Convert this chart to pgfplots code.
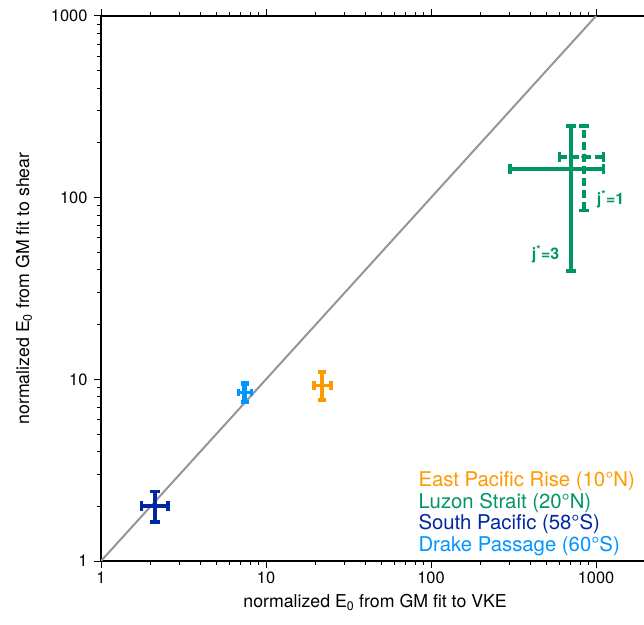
\documentclass[border=0pt]{standalone}
\usepackage{pgfplots}
\pgfplotsset{compat=1.18}
\usepackage{fontspec}
\setmainfont{TeX Gyre Heros}
\definecolor{cgreen}{RGB}{0,150,100}
\definecolor{corange}{RGB}{255,153,0}
\definecolor{cdblue}{RGB}{0,38,160}
\definecolor{clblue}{RGB}{0,150,255}
\definecolor{cgray}{RGB}{150,150,150}
\begin{document}
\begin{tikzpicture}
\useasboundingbox (0,0) rectangle (644bp,625bp);
\clip (0,0) rectangle (644bp,625bp);
\begin{axis}[
  at={(101bp,64bp)}, anchor=south west,
  scale only axis, width=548.2bp, height=545bp,
  xmode=log, ymode=log,
  xmin=1, xmax=2100, ymin=1, ymax=1000,
  xtick={1,10,100,1000}, xticklabels={1,10,100,1000},
  ytick={1,10,100,1000}, yticklabels={1,10,100,1000},
  tick align=outside,
  axis line style={line width=2.5bp},
  major tick style={line width=1bp, black},
  minor tick style={line width=1bp, black},
  major tick length=7bp, minor tick length=4bp,
  /pgf/number format/assume math mode=true,
  ticklabel style={font=\fontsize{16.5}{19}\selectfont},
  yticklabel style={xshift=-3bp},
  xlabel={normalized E\textsubscript{0} from GM fit to VKE},
  ylabel={normalized E\textsubscript{0} from GM fit to shear},
  label style={font=\fontsize{17.8}{20}\selectfont},
  xlabel style={yshift=-4bp},
  ylabel style={yshift=12bp},
]
% 1:1 line
\addplot[cgray, line width=2bp] coordinates {(1,1) (1000,1000)};
% South Pacific
\addplot[cdblue, line width=3.8bp, mark=-, mark size=4.8bp] coordinates {(2.12,1.64) (2.12,2.41)};
\addplot[cdblue, line width=3.8bp, mark=|, mark size=4.8bp] coordinates {(1.76,2.01) (2.56,2.01)};
% Drake Passage
\addplot[clblue, line width=4.5bp, mark=-, mark size=3.8bp] coordinates {(7.43,7.5) (7.43,9.5)};
\addplot[clblue, line width=3.5bp, mark=|, mark size=3.8bp] coordinates {(6.8,8.48) (8.19,8.48)};
% East Pacific Rise
\addplot[corange, line width=3.6bp, mark=-, mark size=4.2bp] coordinates {(21.9,7.7) (21.9,11.0)};
\addplot[corange, line width=3.6bp, mark=|, mark size=4.2bp] coordinates {(19.6,9.23) (24.7,9.23)};
% Luzon Strait j*=3
\addplot[cgreen, line width=3.6bp, mark=-, mark size=5bp] coordinates {(703,39.4) (703,248)};
\addplot[cgreen, line width=3.6bp, mark=|, mark size=5bp] coordinates {(301,143.5) (1107,143.5)};
% Luzon Strait j*=1
\addplot[cgreen, line width=3.6bp, dash pattern=on 8bp off 4bp, mark=-, mark size=5bp, mark options={solid}] coordinates {(849,85.2) (849,248)};
\addplot[cgreen, line width=3.6bp, dash pattern=on 8bp off 4bp, mark=|, mark size=5bp, mark options={solid}] coordinates {(600,168) (1107,168)};
\addplot[cgreen, only marks, mark=*, mark size=2.8bp] coordinates {(849,168)};
\end{axis}
\node[anchor=base west, text=cgreen, font=\fontsize{16}{18}\selectfont\bfseries, inner sep=0pt] at (596.7bp,420bp) {j\textsuperscript{*}=1};
\node[anchor=base west, text=cgreen, font=\fontsize{16}{18}\selectfont\bfseries, inner sep=0pt] at (531.7bp,365bp) {j\textsuperscript{*}=3};
\begin{scope}[every node/.style={anchor=base west, inner sep=0pt, font=\fontsize{20.4}{24}\selectfont}]
\node[text=corange] at (418.3bp,138.3bp) {East Pacific Rise (10°N)};
\node[text=cgreen] at (418.3bp,116.7bp) {Luzon Strait (20°N)};
\node[text=cdblue] at (418.3bp,95bp) {South Pacific (58°S)};
\node[text=clblue] at (418.3bp,73.3bp) {Drake Passage (60°S)};
\end{scope}
\end{tikzpicture}
\end{document}
